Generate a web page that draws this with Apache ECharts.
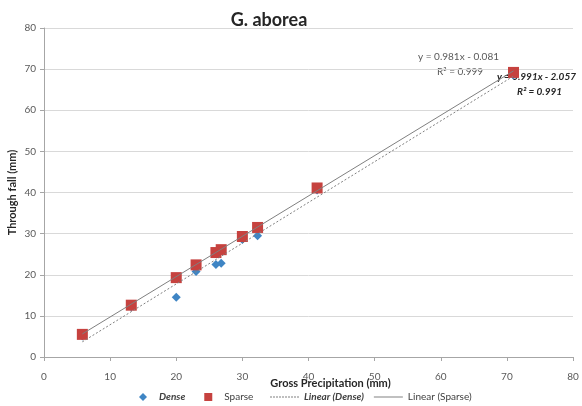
<!DOCTYPE html>
<html>
<head>
<meta charset="utf-8">
<script src="https://cdn.jsdelivr.net/npm/echarts@6/dist/echarts.min.js"></script>
<style>
  html, body { margin: 0; padding: 0; background: #ffffff; }
  #chart { width: 582px; height: 406px; }
</style>
</head>
<body>
<div id="chart"></div>
<script>
// gross precipitation (mm)
const grossPrecip = [5.8, 13.2, 20.0, 23.0, 26.0, 26.8, 30.0, 32.3, 41.3, 71.0];
// through fall (mm)
const denseFall = [5.1, 12.2, 14.5, 20.8, 22.5, 22.8, 28.6, 29.5, 40.6, 68.6];
const sparseFall = [5.5, 12.6, 19.3, 22.4, 25.4, 26.1, 29.3, 31.5, 41.1, 69.2];

// trendline coefficients [slope, intercept]
const denseFit = [0.991, -2.057];
const sparseFit = [0.981, -0.081];

const xTicks = [0, 10, 20, 30, 40, 50, 60, 70, 80];
const yTicks = [0, 10, 20, 30, 40, 50, 60, 70, 80];

const FONT = 'Lato, "Open Sans", sans-serif';
const LABEL = '#595959';

const pairs = (ys) => grossPrecip.map((x, i) => [x, ys[i]]);
const fitLine = (fit) => {
  const lo = Math.min(...grossPrecip);
  const hi = Math.max(...grossPrecip);
  return [[lo, fit[0] * lo + fit[1]], [hi, fit[0] * hi + fit[1]]];
};

// dashed legend icon built from small dashes
const dashIcon = 'path://' + Array.from({ length: 10 }, (_, i) => {
  const x = i * 3;
  return 'M' + x + ',0 L' + (x + 2) + ',0 L' + (x + 2) + ',1 L' + x + ',1 Z';
}).join(' ');

const myChart = echarts.init(document.getElementById('chart'));

const option = {
  backgroundColor: '#ffffff',
  animation: false,
  title: {
    text: 'G. aborea',
    left: 264,
    top: 6,
    textAlign: 'center',
    textStyle: { fontFamily: FONT, fontSize: 18, fontWeight: 'bold', color: '#262626' }
  },
  grid: { left: 44, right: 9, top: 28, bottom: 49, outerBoundsMode: 'none' },
  legend: [
    {
      bottom: 4,
      left: 139,
      padding: 0,
      itemGap: 19,
      itemWidth: 8,
      itemHeight: 8,
      textStyle: { fontFamily: FONT, fontSize: 10, color: '#404040', padding: [0, 0, 0, 7] },
      data: [
        { name: 'Dense', icon: 'diamond', textStyle: { fontStyle: 'italic', fontWeight: 'bold' } },
        { name: 'Sparse', icon: 'rect' }
      ]
    },
    {
      bottom: 4,
      left: 270,
      padding: 0,
      itemGap: 10,
      itemWidth: 29,
      itemHeight: 1,
      textStyle: { fontFamily: FONT, fontSize: 10, color: '#404040' },
      data: [
        { name: 'Linear (Dense)', icon: dashIcon, textStyle: { fontStyle: 'italic', fontWeight: 'bold' } },
        { name: 'Linear (Sparse)', icon: 'rect' }
      ]
    }
  ],
  xAxis: {
    type: 'value',
    min: 0,
    max: 80,
    interval: 10,
    name: 'Gross Precipitation (mm)',
    nameLocation: 'middle',
    nameGap: 21,
    nameMoveOverlap: false,
    nameTextStyle: { fontFamily: FONT, fontSize: 11, fontWeight: 'bold', color: '#262626', padding: [0, 0, 0, 44] },
    axisLine: { lineStyle: { color: '#a6a6a6' } },
    axisTick: { show: true, length: 4, lineStyle: { color: '#a6a6a6' } },
    axisLabel: {
      fontFamily: FONT, fontSize: 10, color: LABEL, margin: 15,
      formatter: (v) => xTicks.includes(v) ? String(v) : ''
    },
    splitLine: { show: false }
  },
  yAxis: {
    type: 'value',
    min: 0,
    max: 80,
    interval: 10,
    name: 'Through fall (mm)',
    nameLocation: 'middle',
    nameGap: 26,
    nameMoveOverlap: false,
    nameRotate: 90,
    nameTextStyle: { fontFamily: FONT, fontSize: 11, fontWeight: 'bold', color: '#262626' },
    axisLine: { show: true, lineStyle: { color: '#a6a6a6' } },
    axisTick: { show: true, length: 4, lineStyle: { color: '#a6a6a6' } },
    axisLabel: {
      fontFamily: FONT, fontSize: 10, color: LABEL, margin: 8,
      formatter: (v) => yTicks.includes(v) ? String(v) : ''
    },
    splitLine: { show: true, lineStyle: { color: '#d9d9d9', width: 1 } }
  },
  series: [
    {
      name: 'Dense',
      type: 'scatter',
      symbol: 'diamond',
      symbolSize: 9,
      itemStyle: { color: '#3f85c4', opacity: 1 },
      data: pairs(denseFall),
      z: 2
    },
    {
      name: 'Sparse',
      type: 'scatter',
      symbol: 'rect',
      symbolSize: 11,
      itemStyle: { color: '#c6423f', opacity: 1 },
      data: pairs(sparseFall),
      z: 3
    },
    {
      name: 'Linear (Dense)',
      type: 'line',
      symbol: 'none',
      lineStyle: { color: '#808080', width: 1, type: [2, 2] },
      itemStyle: { color: '#808080' },
      data: fitLine(denseFit),
      z: 4
    },
    {
      name: 'Linear (Sparse)',
      type: 'line',
      symbol: 'none',
      lineStyle: { color: '#808080', width: 1 },
      itemStyle: { color: '#808080' },
      data: fitLine(sparseFit),
      z: 4
    }
  ],
  graphic: [
    {
      type: 'text', left: 418, top: 52,
      style: { text: 'y = 0.981x - 0.081', fontFamily: FONT, fontSize: 10, fill: '#595959' }
    },
    {
      type: 'text', left: 437, top: 67,
      style: { text: 'R² = 0.999', fontFamily: FONT, fontSize: 10, fill: '#595959' }
    },
    {
      type: 'text', left: 497, top: 72,
      style: { text: 'y = 0.991x - 2.057', fontFamily: FONT, fontSize: 10, fontWeight: 'bold', fontStyle: 'italic', fill: '#262626' }
    },
    {
      type: 'text', left: 517, top: 87,
      style: { text: 'R² = 0.991', fontFamily: FONT, fontSize: 10, fontWeight: 'bold', fontStyle: 'italic', fill: '#262626' }
    }
  ]
};

myChart.setOption(option);
</script>
</body>
</html>
